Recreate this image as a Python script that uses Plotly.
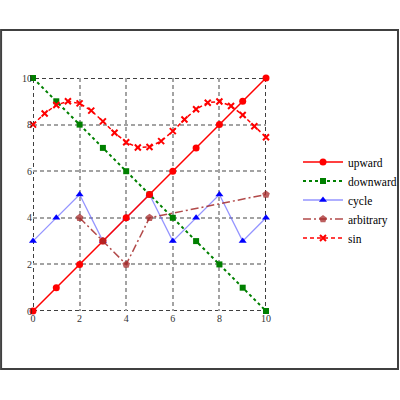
import plotly.graph_objects as go

# data
x_int = [0, 1, 2, 3, 4, 5, 6, 7, 8, 9, 10]
upward = [0, 1, 2, 3, 4, 5, 6, 7, 8, 9, 10]
downward = [10, 9, 8, 7, 6, 5, 4, 3, 2, 1, 0]
cycle = [3, 4, 5, 3, 4, 5, 3, 4, 5, 3, 4]

arb_x = [2, 3, 4, 5, 10]
arbitrary = [4, 3, 2, 4, 5]

sin_x = [0, 0.5, 1, 1.5, 2, 2.5, 3, 3.5, 4, 4.5, 5,
         5.5, 6, 6.5, 7, 7.5, 8, 8.5, 9, 9.5, 10]
sin_y = [8.0, 8.48, 8.84, 9.0, 8.91, 8.6, 8.14, 7.65, 7.24, 7.02, 7.04,
         7.29, 7.72, 8.22, 8.66, 8.94, 8.99, 8.8, 8.41, 7.93, 7.46]

ticks = [0, 2, 4, 6, 8, 10]

fig = go.Figure()

# drawing order = add order (upward sits over cycle/downward), legendrank keeps the legend order
fig.add_trace(go.Scatter(x=x_int, y=downward, name="downward", mode="lines+markers",
                         line=dict(color="green", width=2, dash="dot"),
                         marker=dict(symbol="square", size=6, color="green"),
                         cliponaxis=False, legendrank=2))
fig.add_trace(go.Scatter(x=x_int, y=cycle, name="cycle", mode="lines+markers",
                         line=dict(color="rgba(90,90,255,0.65)", width=1.3),
                         marker=dict(symbol="triangle-up", size=7, color="blue"),
                         cliponaxis=False, legendrank=3))
fig.add_trace(go.Scatter(x=x_int, y=upward, name="upward", mode="lines+markers",
                         line=dict(color="red", width=1.5),
                         marker=dict(symbol="circle", size=7, color="red"),
                         cliponaxis=False, legendrank=1))
fig.add_trace(go.Scatter(x=arb_x, y=arbitrary, name="arbitrary", mode="lines+markers",
                         line=dict(color="rgba(165,42,42,0.85)", width=1.5, dash="8px,3px,2px,3px"),
                         marker=dict(symbol="pentagon", size=8, color="rgba(165,42,42,0.75)"),
                         cliponaxis=False, legendrank=4))
fig.add_trace(go.Scatter(x=sin_x, y=sin_y, name="sin", mode="lines+markers",
                         line=dict(color="red", width=1.5, dash="4px,3px"),
                         marker=dict(symbol="x-thin", size=6, color="red",
                                     line=dict(color="red", width=2)),
                         cliponaxis=False, legendrank=5))

axis_style = dict(range=[0, 10], tickvals=ticks, showgrid=True, gridcolor="#a3a3a3",
                  griddash="4px,3px", gridwidth=1.6, zeroline=False, showline=False,
                  ticks="", tickfont=dict(family="Liberation Serif", size=10, color="#333333"))
fig.update_xaxes(**axis_style)
fig.update_yaxes(**axis_style)

# dashed black frame round the plot area
fig.add_shape(type="rect", xref="x", yref="y", x0=0, x1=10, y0=0, y1=10,
              line=dict(color="black", width=1.5, dash="4px,3px"), layer="below")
# outer figure border
fig.add_shape(type="rect", xref="paper", yref="paper",
              x0=-0.137, x1=1.5665, y0=-0.249, y1=1.206,
              line=dict(color="#404040", width=2))

fig.update_layout(
    width=400, height=400,
    margin=dict(l=33, r=134, t=78, b=89, autoexpand=False),
    plot_bgcolor="white", paper_bgcolor="white",
    font=dict(family="Liberation Serif", size=11, color="black"),
    legend=dict(xref="container", yref="container", x=0.745, y=0.5,
                xanchor="left", yanchor="middle", traceorder="normal",
                font=dict(family="Liberation Serif", size=11.5),
                itemwidth=40, tracegroupgap=0, bgcolor="rgba(0,0,0,0)"),
)

fig.write_html("out.html", config={"displayModeBar": False, "responsive": False})

# drop the default page margin so the figure sits at the window's corner
with open("out.html") as f:
    page = f.read()
page = page.replace("<head>", "<head><style>body{margin:0;overflow:hidden}</style>", 1)
with open("out.html", "w") as f:
    f.write(page)
